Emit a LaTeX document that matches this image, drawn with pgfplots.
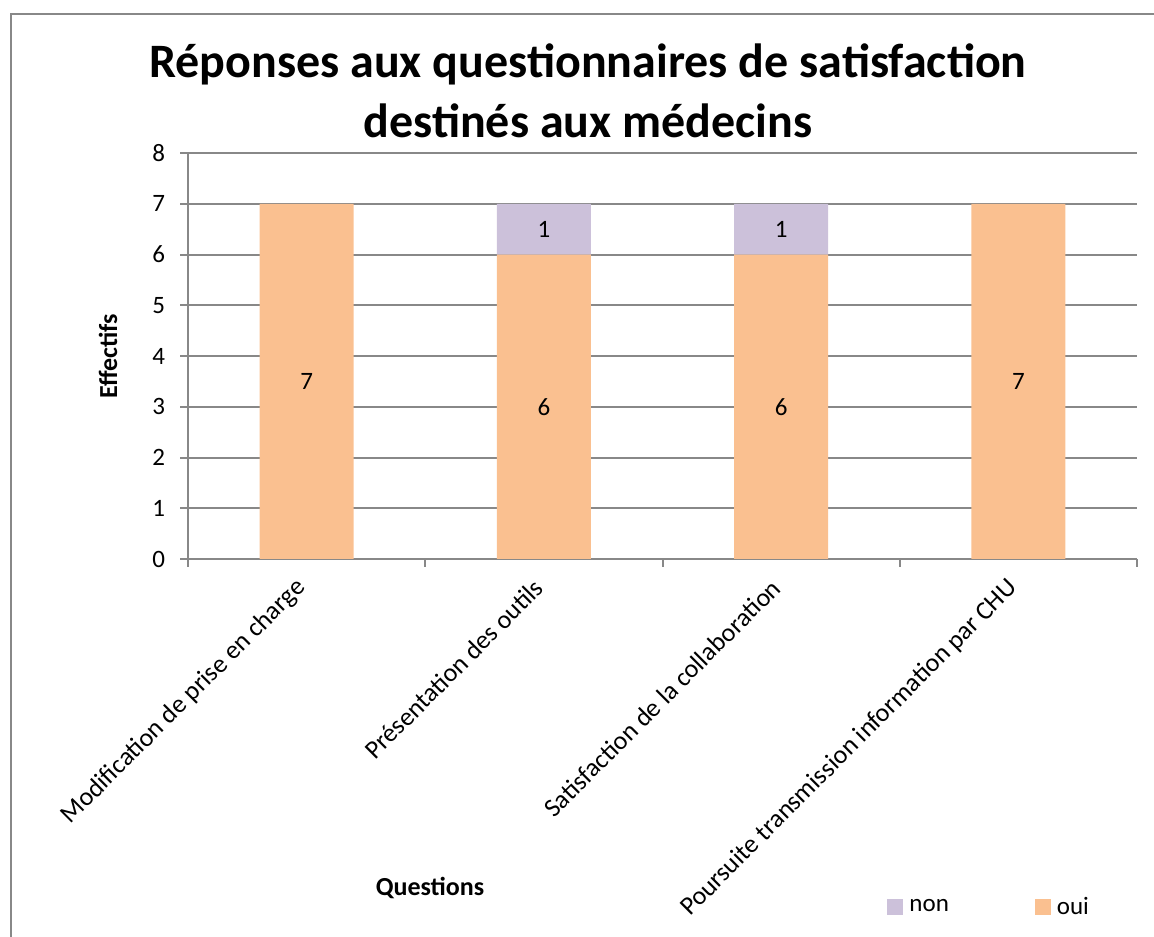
\documentclass[border=0pt]{standalone}
\usepackage{fontspec}
\setmainfont{Carlito}
\usepackage{pgfplots}
\pgfplotsset{compat=1.18}
\definecolor{oui}{HTML}{FAC090}
\definecolor{non}{HTML}{CCC1DA}
\definecolor{grille}{HTML}{888888}

\begin{document}
\begin{tikzpicture}
\useasboundingbox (0,0) rectangle (577pt,468pt);
\clip (0,0) rectangle (577pt,468pt);
% cadre du graphique (coupé à droite et en bas)
\draw[grille, line width=1pt] (5.5pt,-2pt) -- (5.5pt,461pt) -- (580pt,461pt);
\node[font=\bfseries\fontsize{24}{28}\selectfont, anchor=base] at (294pt,429pt) {Réponses aux questionnaires de satisfaction};
\node[font=\bfseries\fontsize{24}{28}\selectfont, anchor=base] at (294pt,399pt) {destinés aux médecins};
\begin{axis}[
    at={(94pt,188.5pt)}, anchor=south west,
    scale only axis, width=474.5pt, height=203pt,
    ybar stacked, bar width=0.397,
    xmin=-0.5, xmax=3.5, ymin=0, ymax=8,
    enlargelimits=false,
    axis x line*=bottom, axis y line*=left,
    axis line style={grille, line width=1pt, -},
    tick style={grille, line width=1pt},
    tick align=outside, major tick length=4pt,
    ytick={0,1,...,8},
    yticklabel style={xshift=-4pt},
    ymajorgrids, grid style={grille, line width=1pt},
    xtick={-0.5,0.5,1.5,2.5,3.5}, xticklabels={},
    extra x ticks={0,1,2,3},
    extra x tick labels={Modification de prise en charge, Présentation des outils, Satisfaction de la collaboration, Poursuite transmission information par CHU},
    extra x tick style={major tick length=0pt, grid=none,
        xticklabel style={xshift=0pt, yshift=-10pt, rotate=45, anchor=east,
            font=\fontsize{13}{16}\selectfont}},
    tick label style={font=\fontsize{12.5}{15}\selectfont},
    /pgf/number format/assume math mode=true,
    xlabel={Questions},
    xlabel style={at={(axis description cs:0.255,-0.81)}, anchor=center, font=\bfseries\fontsize{13}{15}\selectfont},
    ylabel={Effectifs},
    ylabel style={at={(axis description cs:-0.0843,0.5)}, anchor=center, font=\bfseries\fontsize{13}{15}\selectfont},
    legend style={at={(axis description cs:0.7366,-0.857)}, anchor=west,
        draw=none, fill=none, inner sep=0pt, legend columns=2,
        font=\fontsize{12.5}{15}\selectfont,
        nodes={inner xsep=3pt, inner ysep=1pt},
        /tikz/every even column/.append style={column sep=40pt}},
    legend image code/.code={\fill[#1] (0pt,-4pt) rectangle (8pt,4pt);},
    reverse legend,
    point meta=explicit symbolic,
    nodes near coords,
    every node near coord/.append style={anchor=center, text=black,
        font=\fontsize{12.5}{15}\selectfont},
]
\addplot[fill=oui, draw=none]
    coordinates {(0,7) [7] (1,6) [6] (2,6) [6] (3,7) [7]};
\addlegendentry{oui}
\addplot[fill=non, draw=none]
    coordinates {(0,0) [] (1,1) [1] (2,1) [1] (3,0) []};
\addlegendentry{non}
\end{axis}
\end{tikzpicture}
\end{document}
